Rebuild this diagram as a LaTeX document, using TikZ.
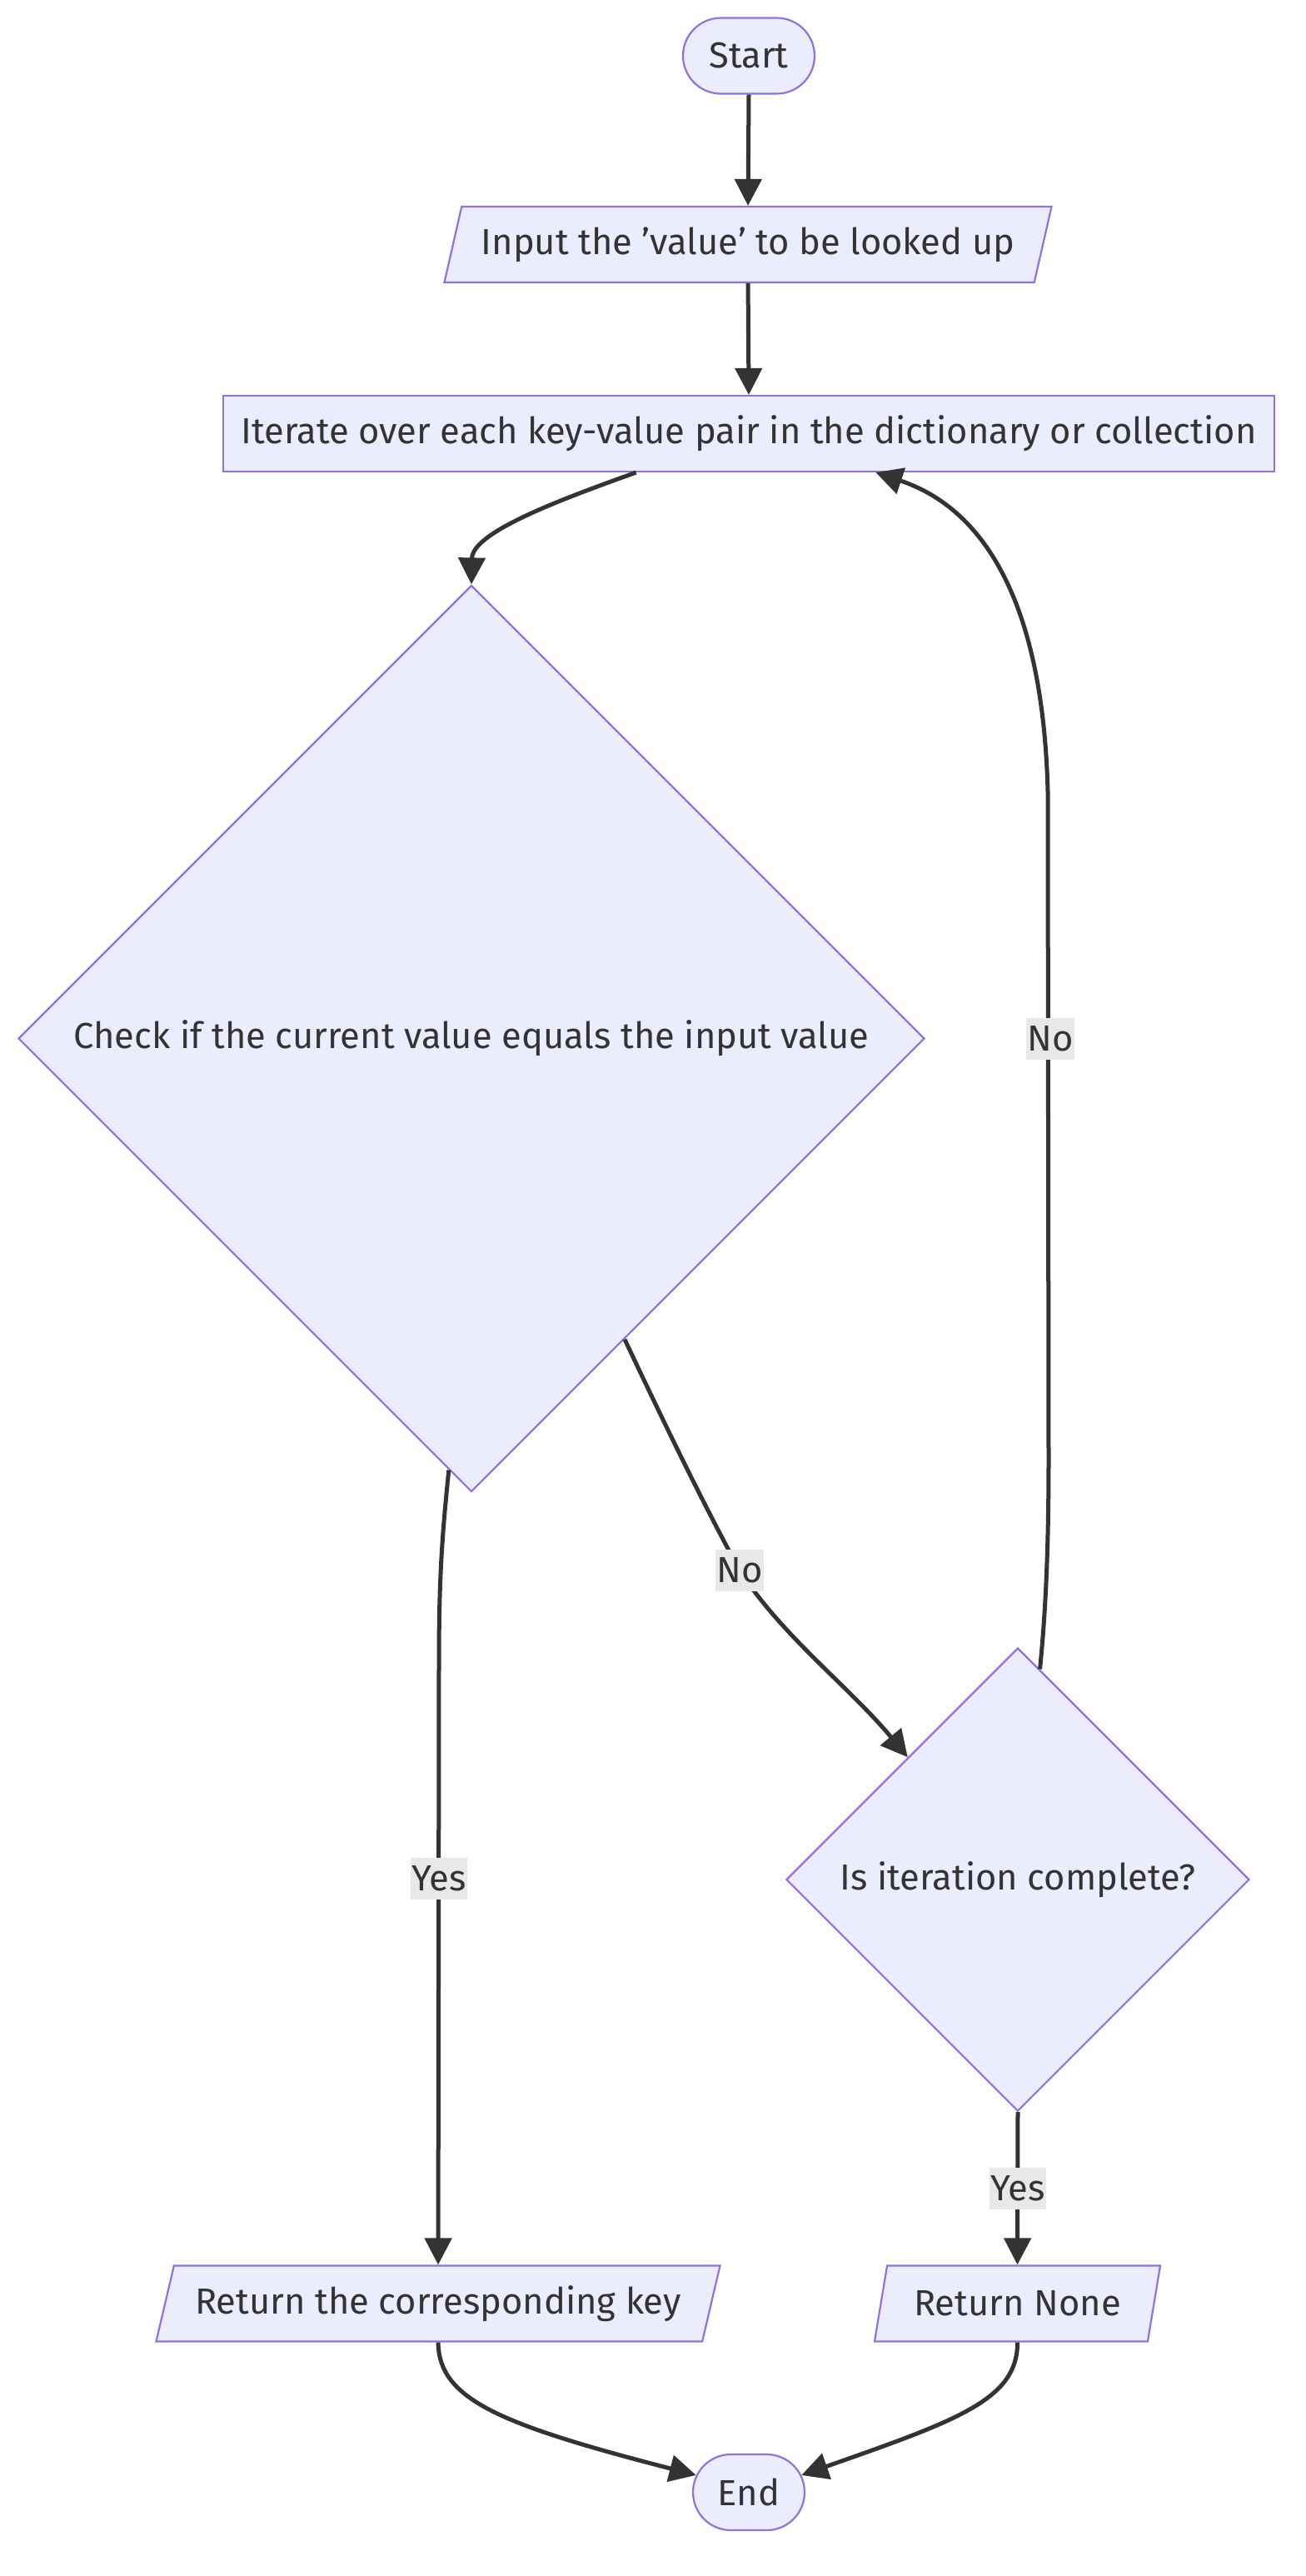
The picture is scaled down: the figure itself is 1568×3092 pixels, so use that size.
\documentclass[tikz,border=0pt]{standalone}
\usepackage{fontspec}
\setmainfont{Fira Sans}
\usetikzlibrary{shapes.geometric,shapes.misc,arrows.meta}
\definecolor{nodefill}{HTML}{ECECFF}
\definecolor{nodeline}{HTML}{9370DB}
\definecolor{ink}{HTML}{333333}
\definecolor{lblfill}{HTML}{E8E8E8}
\tikzset{
  base/.style={fill=nodefill,draw=nodeline,line width=2.2pt,text=ink,font=\fontsize{43.5}{52}\selectfont,inner sep=0pt},
  term/.style={base,rounded rectangle,minimum height=91pt},
  io/.style={base,trapezium,trapezium left angle=63.7,trapezium right angle=116.3,trapezium stretches body=true,minimum height=91pt},
  proc/.style={base,rectangle,minimum height=91pt},
  decide/.style={base,diamond,aspect=1},
  lbl/.style={fill=lblfill,text=ink,font=\fontsize{43.5}{52}\selectfont,inner xsep=1pt,inner ysep=0pt,minimum height=50pt},
  flow/.style={draw=ink,line width=5pt,-{Triangle[length=32pt,width=32pt]}}
}
\begin{document}
\begin{tikzpicture}[x=1pt,y=-1pt]
\useasboundingbox (0,0) rectangle (1568,3092);
\node[term,minimum width=158pt] (start) at (899,67) {Start};
\node[io,minimum width=729pt] (input) at (898,293.5) {Input the {\char"27}value{\char"27} to be looked up};
\node[proc,minimum width=1262pt] (iter) at (899,520.5) {Iterate over each key-value pair in the dictionary or collection};
\node[decide,minimum width=1088pt,minimum height=1088pt] (check) at (566,1246.5) {Check if the current value equals the input value};
\node[decide,minimum width=556pt,minimum height=556pt] (done) at (1222,2256) {Is iteration complete?};
\node[io,minimum width=677pt] (retkey) at (526,2765) {Return the corresponding key};
\node[io,minimum width=343pt] (retnone) at (1221.5,2765) {Return None};
\node[term,minimum width=134pt] (end) at (899,2991.5) {End};
\draw[flow] (start.south) -- (input.north);
\draw[flow] (input.south) -- (iter.north);
\draw[flow] (iter.199) .. controls (663,603) and (567,640) .. (check.north);
\draw[flow] (check.297) .. controls (810,1735) and (850,1815) .. (888,1885) .. controls (940,1965) and (1020,2025) .. (done.132);
\draw[flow] (done.84) .. controls (1256,1930) and (1259,1850) .. (1259,1750) -- (1258,950) .. controls (1252,720) and (1180,610) .. (iter.343);
\draw[flow] (check.267) .. controls (530,1850) and (527,1900) .. (527,2000) -- (retkey.north);
\draw[flow] (done.south) -- (retnone.north);
\draw[flow] (retkey.south) .. controls (527,2880) and (600,2910) .. (end.162);
\draw[flow] (retnone.south) .. controls (1222,2880) and (1150,2905) .. (end.18);
\node[lbl] (nocheck) at (888,1885) {No};
\node[lbl] (noloop) at (1261,1247) {No};
\node[lbl] (yeskey) at (527,2255) {Yes};
\node[lbl] (yesnone) at (1222,2627) {Yes};
\end{tikzpicture}
\end{document}
